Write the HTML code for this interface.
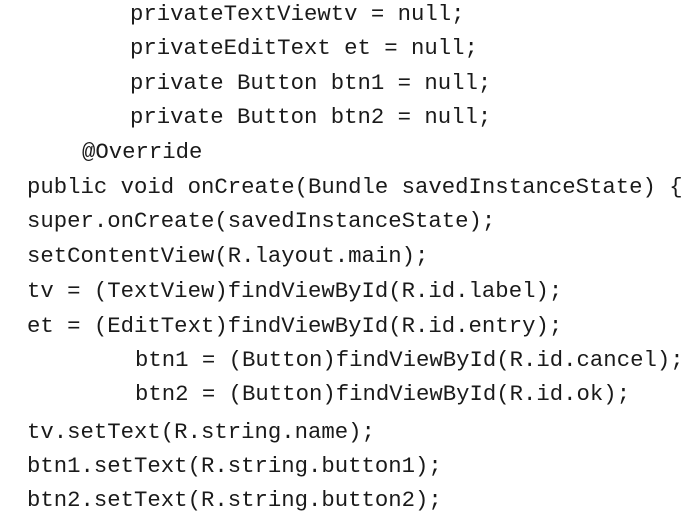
<!DOCTYPE html>
<html><head><meta charset="utf-8"><style>
html,body{margin:0;padding:0;background:#fff;}
body{width:699px;height:519px;position:relative;overflow:hidden;}
div{position:absolute;font-family:"Liberation Mono",monospace;font-size:22.3px;line-height:26px;color:#1a1a1a;white-space:pre;}
</style></head><body>
<div style="left:130px;top:1px">privateTextViewtv = null;</div>
<div style="left:130px;top:35px">privateEditText et = null;</div>
<div style="left:130px;top:70px">private Button btn1 = null;</div>
<div style="left:130px;top:104px">private Button btn2 = null;</div>
<div style="left:82px;top:139px">@Override</div>
<div style="left:27px;top:174px">public void onCreate(Bundle savedInstanceState) {</div>
<div style="left:27px;top:208px">super.onCreate(savedInstanceState);</div>
<div style="left:27px;top:243px">setContentView(R.layout.main);</div>
<div style="left:27px;top:278px">tv = (TextView)findViewById(R.id.label);</div>
<div style="left:27px;top:313px">et = (EditText)findViewById(R.id.entry);</div>
<div style="left:135px;top:347px">btn1 = (Button)findViewById(R.id.cancel);</div>
<div style="left:135px;top:381px">btn2 = (Button)findViewById(R.id.ok);</div>
<div style="left:27px;top:419px">tv.setText(R.string.name);</div>
<div style="left:27px;top:453px">btn1.setText(R.string.button1);</div>
<div style="left:27px;top:487px">btn2.setText(R.string.button2);</div>
</body></html>
